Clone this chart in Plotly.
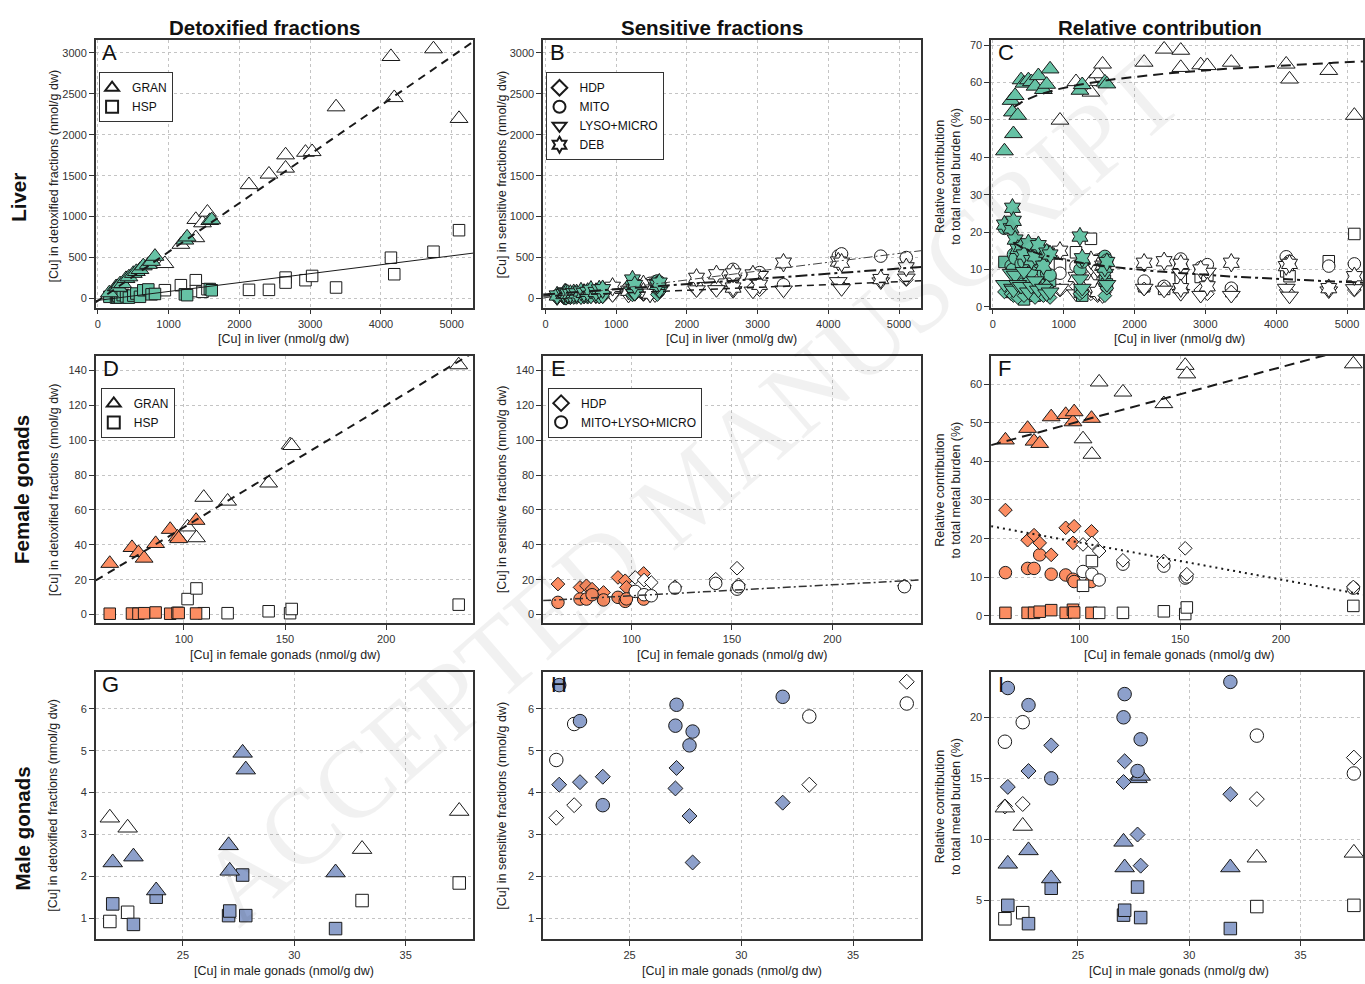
import numpy as np
import plotly.graph_objects as go

FONT = "Liberation Sans, Arial, Helvetica, sans-serif"
W, H = 1365, 984
GREEN = "#66C2A5"; ORANGE = "#FC8D62"; BLUE = "#8DA0CB"; WHITE = "#FFFFFF"
EDGE = "#1a1a1a"

# ---------------- Liver (panels A-C) ----------------
liver_x_green = [164, 258, 277, 291, 315, 352, 399, 440, 502, 545, 596, 643, 714, 760, 808, 1230, 1262, 1582, 1610]
liver_x_white = [948, 1174, 1385, 1385, 1479, 1549, 2136, 2418, 2653, 2653, 2934, 3028, 3366, 4141, 4188, 4742, 5103]

A_gran_green = [68, 142, 144, 135, 178, 180, 242, 263, 305, 328, 352, 397, 415, 452, 514, 712, 750, 951, 960]
A_hsp_green = [20, 10, 15, 30, 12, 40, 25, 10, 35, 60, 20, 100, 110, 50, 55, 50, 40, 115, 100]
A_gran_white = [425, 660, 964, 741, 923, 1053, 1389, 1518, 1753, 1591, 1785, 1793, 2340, 2955, 2453, 3049, 2198]
A_hsp_white = [101, 162, 223, 90, 81, 113, 105, 105, 255, 194, 223, 275, 134, 498, 296, 571, 834]

B_hdp_green = [7, 9, 14, 9, 14, 9, 24, 13, 20, 19, 15, 29, 21, 42, 20, 43, 50, 47, 81]
B_mito_green = [34, 28, 28, 41, 41, 30, 46, 53, 50, 52, 69, 77, 64, 68, 69, 123, 151, 214, 201]
B_lyso_green = [10, 23, 14, 13, 27, 21, 22, 42, 20, 30, 42, 29, 36, 27, 32, 92, 63, 142, 97]
B_deb_green = [36, 54, 73, 67, 57, 55, 64, 62, 85, 68, 80, 106, 79, 110, 113, 231, 164, 166, 193]
B_hdp_white = [43, 65, 48, 69, 44, 62, 103, 118, 101, 133, 132, 106, 135, 186, 147, 228, 230]
B_mito_white = [85, 128, 166, 111, 185, 201, 147, 133, 356, 243, 290, 316, 168, 520, 545, 517, 500]
B_lyso_white = [47, 41, 62, 145, 148, 46, 107, 109, 96, 239, 91, 282, 104, 207, 121, 204, 250]
B_deb_white = [142, 94, 173, 83, 59, 170, 252, 295, 133, 305, 293, 167, 437, 451, 437, 237, 380]

C_gran_green = [41.7, 55.2, 52.1, 46.3, 56.5, 51.2, 60.7, 59.8, 60.7, 60.2, 59.0, 61.8, 58.1, 59.5, 63.6, 57.9, 59.4, 60.1, 59.6]
C_hsp_green = [12, 4, 5, 10, 4, 11, 6, 2, 7, 11, 3, 16, 15, 7, 7, 4, 3, 7, 6]
C_hdp_green = [4.0, 3.5, 5.0, 3.0, 4.5, 2.5, 6.0, 3.0, 4.0, 3.5, 2.5, 4.5, 3.0, 5.5, 2.5, 3.5, 4.0, 3.0, 5.0]
C_mito_green = [21.0, 11.0, 10.0, 14.0, 13.0, 8.5, 11.5, 12.0, 10.0, 9.5, 11.5, 12.0, 9.0, 9.0, 8.5, 10.0, 12.0, 13.5, 12.5]
C_lyso_green = [6.0, 9.0, 5.0, 4.5, 8.5, 6.0, 5.5, 9.5, 4.0, 5.5, 7.0, 4.5, 5.0, 3.5, 4.0, 7.5, 5.0, 9.0, 6.0]
C_deb_green = [22.0, 21.0, 26.5, 23.0, 18.0, 15.5, 16.0, 14.0, 17.0, 12.5, 13.5, 16.5, 11.0, 14.5, 14.0, 18.8, 13.0, 10.5, 12.0]
C_gran_white = [49.9, 60.2, 60.2, 57.4, 62.3, 64.9, 65.4, 68.9, 68.6, 64.0, 64.7, 64.5, 65.4, 64.9, 60.9, 63.2, 51.2]
C_hsp_white = [11.3, 14.6, 18.2, 12.0, 7.0, 9.5, 5.5, 4.8, 8.4, 7.5, 8.0, 8.5, 4.2, 9.5, 8.2, 12.2, 19.5]
C_hdp_white = [4.5, 5.5, 3.5, 5.0, 3.0, 4.0, 4.8, 4.9, 3.8, 5.0, 4.5, 3.5, 4.0, 4.5, 3.5, 4.8, 4.5]
C_mito_white = [9.0, 10.9, 12.0, 8.0, 12.5, 13.0, 6.9, 5.5, 12.8, 11.1, 10.5, 11.3, 5.0, 13.4, 12.2, 10.9, 11.5]
C_lyso_white = [5.0, 3.5, 4.5, 10.5, 10.0, 3.0, 5.0, 4.5, 3.6, 9.0, 3.1, 9.3, 3.1, 5.0, 2.9, 4.3, 4.9]
C_deb_white = [15.0, 8.0, 12.5, 6.0, 4.0, 11.0, 11.8, 12.2, 5.0, 11.5, 10.0, 5.5, 11.8, 10.9, 11.5, 5.0, 8.2]

# ---------------- Female gonads (panels D-F) ----------------
fem_x_orange = [63.3, 74.3, 77.5, 80.3, 86.0, 93.2, 96.8, 97.4, 106.0]
fem_x_white = [101.8, 106.2, 109.8, 121.6, 141.9, 152.5, 153.3, 235.9]

D_gran_orange = [29.3, 38.4, 35.5, 32.3, 40.7, 48.8, 44.5, 43.5, 54.0]
D_hsp_orange = [0.5, 0.6, 0.5, 0.8, 1.2, 0.5, 1.0, 0.9, 0.6]
D_gran_white = [50.2, 44.0, 67.2, 65.0, 75.4, 97.3, 96.9, 143.2]
D_hsp_white = [8.9, 15.0, 0.8, 0.8, 1.9, 0.8, 3.2, 5.7]

E_hdp_orange = [17.5, 15.6, 16.5, 14.6, 12.7, 21.3, 19.4, 15.6, 23.6]
E_mls_orange = [7.0, 8.9, 8.9, 11.4, 8.4, 9.9, 7.6, 9.0, 8.9]
E_hdp_white = [21.3, 19.8, 18.4, 16.0, 20.3, 26.6, 17.1, 16.5]
E_mls_white = [13.3, 11.4, 10.8, 15.2, 17.9, 14.6, 16.0, 16.0]

F_gran_orange = [45.5, 48.5, 45.2, 44.6, 51.5, 52.1, 50.2, 52.8, 51.1]
F_hsp_orange = [0.8, 0.8, 0.8, 1.1, 1.5, 0.8, 1.6, 0.9, 0.8]
F_hdp_orange = [27.4, 19.6, 20.9, 18.9, 15.8, 22.8, 18.9, 23.2, 21.9]
F_mls_orange = [11.2, 12.3, 12.3, 15.8, 10.8, 10.6, 9.5, 8.9, 8.9]
F_gran_white = [45.8, 41.8, 60.5, 57.9, 54.9, 64.8, 62.6, 65.2]
F_hsp_white = [7.8, 14.2, 0.8, 0.8, 1.2, 0.5, 2.2, 2.6]
F_hdp_white = [18.5, 18.9, 16.8, 14.4, 14.2, 17.5, 10.8, 7.5]
F_mls_white = [11.5, 10.8, 9.3, 13.4, 12.9, 9.8, 10.1, 7.2]

# ---------------- Male gonads (panels G-I) ----------------
male_x_blue = [21.85, 22.78, 23.80, 27.05, 27.10, 27.68, 27.82, 31.85]
male_x_white = [21.72, 22.52, 33.04, 37.40]

G_gran_blue = [2.33, 2.47, 1.66, 2.74, 2.13, 4.95, 4.55, 2.09]
G_hsp_blue = [1.34, 0.85, 1.50, 1.06, 1.17, 2.03, 1.06, 0.75]
G_gran_white = [3.40, 3.16, 2.65, 3.56]
G_hsp_white = [0.92, 1.14, 1.42, 1.84]

H_mito_blue = [6.57, 5.71, 3.70, 5.60, 6.10, 5.13, 5.46, 6.29]
H_hdp_blue = [4.19, 4.25, 4.38, 4.10, 4.59, 3.44, 2.33, 3.76]
H_mito_white = [4.78, 5.64, 5.82, 6.13]
H_hdp_white = [3.40, 3.70, 4.19, 6.65]

I_mito_blue = [22.4, 21.0, 15.0, 20.0, 21.9, 15.6, 18.2, 22.9]
I_hdp_blue = [14.3, 15.6, 17.7, 14.7, 16.4, 10.4, 7.85, 13.7]
I_gran_blue = [8.0, 9.1, 6.8, 9.8, 7.7, 15.0, 15.2, 7.7]
I_hsp_blue = [4.6, 3.1, 6.0, 3.8, 4.2, 6.1, 3.6, 2.7]
I_mito_white = [18.0, 19.6, 18.5, 15.4]
I_hdp_white = [12.7, 12.9, 13.3, 16.7]
I_gran_white = [12.6, 11.1, 8.5, 8.9]
I_hsp_white = [3.5, 4.0, 4.5, 4.6]

# ---------------- fitted relationships (slope, intercept) ----------------
A_fit_gran = (0.597, -29.0)
A_fit_hsp = (0.109, -24.0)
B_fit_mito = (0.108, 10.0)
B_fit_deb = (0.063, 50.0)
B_fit_hdp = (0.035, 30.0)
C_fit_gran = (4.26, 29.15)      # a + b*ln(x)
C_fit_sens = (-3.71, 38.24)
C_fit_start = 300
D_fit_gran = (0.70, -19.9)
E_fit = (0.063, 4.5)
F_fit_gran = (0.1404, 36.3)
F_fit_hdp = (-0.0959, 28.6)

# ---------------- axes geometry ----------------
def px_x(a, b):
    return [a / W, b / W]

def px_y(top, bottom):
    return [1 - bottom / H, 1 - top / H]

cols = [px_x(95, 473.3), px_x(543.3, 922.3), [992.3 / W, 1.0]]
rows = [px_y(39.5, 308.5), px_y(357, 626.3), px_y(675, 943.8)]

xranges = {1: [-28, 5304], 2: [-34, 5315], 3: [-24, 5225],
           4: [56.4, 243.1], 5: [55.9, 244.3], 6: [56.2, 240.7],
           7: [21.09, 38.03], 8: [21.13, 38.05], 9: [21.1, 37.81]}
yranges = {1: [-112, 3155], 2: [-112, 3155], 3: [-0.2, 71.3],
           4: [-5.1, 148.4], 5: [-5.1, 148.4], 6: [-1.95, 67.3],
           7: [0.5, 6.886], 8: [0.5, 6.886], 9: [1.84, 23.72]}
liver_ticks = [0, 1000, 2000, 3000, 4000, 5000]
fem_ticks = [100, 150, 200]
male_ticks = [25, 30, 35]
xticks = {1: liver_ticks, 2: liver_ticks, 3: liver_ticks, 4: fem_ticks, 5: fem_ticks,
          6: fem_ticks, 7: male_ticks, 8: male_ticks, 9: male_ticks}
yticks = {1: list(range(0, 3001, 500)), 2: list(range(0, 3001, 500)), 3: list(range(0, 71, 10)),
          4: list(range(0, 141, 20)), 5: list(range(0, 141, 20)), 6: list(range(0, 61, 10)),
          7: [1, 2, 3, 4, 5, 6], 8: [1, 2, 3, 4, 5, 6], 9: [5, 10, 15, 20]}

fig = go.Figure()


def axn(k):
    return ("x", "y") if k == 1 else (f"x{k}", f"y{k}")


def pts(k, x, y, symbol, fill, size, name=None, legend=None):
    xa, ya = axn(k)
    fig.add_trace(go.Scatter(
        x=x, y=y, xaxis=xa, yaxis=ya, mode="markers", name=name or "",
        marker=dict(symbol=symbol, size=size, color=fill, line=dict(color=EDGE, width=1)),
        showlegend=legend is not None, legend=legend if legend else "legend",
        hoverinfo="skip"))


def line(k, x, y, dash, width, color="#1a1a1a"):
    xa, ya = axn(k)
    fig.add_trace(go.Scatter(x=x, y=y, xaxis=xa, yaxis=ya, mode="lines",
                             line=dict(color=color, width=width, dash=dash),
                             showlegend=False, hoverinfo="skip"))


TRI, SQ, DIA, CIR, TRD, HEX = "triangle-up", "square", "diamond", "circle", "triangle-down", "hexagram"
ST, SS, SC, SD, SH = 15.5, 11.5, 12.5, 10.5, 14   # marker sizes rows 1-2
MT, MS, MC, MD = 17, 12.5, 13.5, 11.5               # marker sizes row 3

# Panel A
pts(1, liver_x_white, A_gran_white, TRI, WHITE, ST, "GRAN", "legend")
pts(1, liver_x_white, A_hsp_white, SQ, WHITE, SS, "HSP", "legend")
pts(1, liver_x_green, A_hsp_green, SQ, GREEN, SS)
pts(1, liver_x_green, A_gran_green, TRI, GREEN, ST)
xl = np.array(xranges[1], dtype=float)
line(1, xl, A_fit_gran[0] * xl + A_fit_gran[1], "8px,6px", 2)
line(1, xl, A_fit_hsp[0] * xl + A_fit_hsp[1], "solid", 1)

# Panel B
pts(2, liver_x_white, B_hdp_white, DIA, WHITE, SD, "HDP", "legend2")
pts(2, liver_x_white, B_mito_white, CIR, WHITE, SC, "MITO", "legend2")
pts(2, liver_x_white, B_lyso_white, TRD, WHITE, ST, "LYSO+MICRO", "legend2")
pts(2, liver_x_white, B_deb_white, HEX, WHITE, SH, "DEB", "legend2")
pts(2, liver_x_green, B_hdp_green, DIA, GREEN, SD)
pts(2, liver_x_green, B_mito_green, CIR, GREEN, SC)
pts(2, liver_x_green, B_lyso_green, TRD, GREEN, ST)
pts(2, liver_x_green, B_deb_green, HEX, GREEN, SH)
xl = np.array(xranges[2], dtype=float)
line(2, xl, B_fit_mito[0] * xl + B_fit_mito[1], "9px,3px,2px,3px", 1, "#444444")
line(2, xl, B_fit_deb[0] * xl + B_fit_deb[1], "12px,4px,3px,4px", 2)
line(2, xl, B_fit_hdp[0] * xl + B_fit_hdp[1], "7px,5px", 1.5)

# Panel C
pts(3, liver_x_white, C_gran_white, TRI, WHITE, ST)
pts(3, liver_x_white, C_hsp_white, SQ, WHITE, SS)
pts(3, liver_x_white, C_mito_white, CIR, WHITE, SC)
pts(3, liver_x_white, C_hdp_white, DIA, WHITE, SD)
pts(3, liver_x_white, C_lyso_white, TRD, WHITE, ST)
pts(3, liver_x_white, C_deb_white, HEX, WHITE, SH)
pts(3, liver_x_green, C_hsp_green, SQ, GREEN, SS)
pts(3, liver_x_green, C_mito_green, CIR, GREEN, SC)
pts(3, liver_x_green, C_hdp_green, DIA, GREEN, SD)
pts(3, liver_x_green, C_lyso_green, TRD, GREEN, ST)
pts(3, liver_x_green, C_deb_green, HEX, GREEN, SH)
pts(3, liver_x_green, C_gran_green, TRI, GREEN, ST)
xc = np.linspace(C_fit_start, xranges[3][1], 200)
line(3, xc, C_fit_gran[1] + C_fit_gran[0] * np.log(xc), "10px,6px", 2)
line(3, xc, C_fit_sens[1] + C_fit_sens[0] * np.log(xc), "10px,4px,3px,4px", 2)

# Panel D
pts(4, fem_x_white, D_gran_white, TRI, WHITE, ST, "GRAN", "legend3")
pts(4, fem_x_white, D_hsp_white, SQ, WHITE, SS, "HSP", "legend3")
pts(4, fem_x_orange, D_hsp_orange, SQ, ORANGE, SS)
pts(4, fem_x_orange, D_gran_orange, TRI, ORANGE, ST)
xl = np.array(xranges[4], dtype=float)
line(4, xl, D_fit_gran[0] * xl + D_fit_gran[1], "8px,6px", 2)

# Panel E
pts(5, fem_x_orange, E_hdp_orange, DIA, ORANGE, SD)
pts(5, fem_x_orange, E_mls_orange, CIR, ORANGE, SC)
pts(5, fem_x_white, E_hdp_white, DIA, WHITE, SD, "HDP", "legend4")
pts(5, fem_x_white, E_mls_white, CIR, WHITE, SC, "MITO+LYSO+MICRO", "legend4")
xl = np.array(xranges[5], dtype=float)
line(5, xl, E_fit[0] * xl + E_fit[1], "8px,3px,2px,3px", 1.5, "#333333")

# Panel F
pts(6, fem_x_orange, F_hsp_orange, SQ, ORANGE, SS)
pts(6, fem_x_orange, F_mls_orange, CIR, ORANGE, SC)
pts(6, fem_x_orange, F_hdp_orange, DIA, ORANGE, SD)
pts(6, fem_x_orange, F_gran_orange, TRI, ORANGE, ST)
pts(6, fem_x_white, F_hsp_white, SQ, WHITE, SS)
pts(6, fem_x_white, F_mls_white, CIR, WHITE, SC)
pts(6, fem_x_white, F_hdp_white, DIA, WHITE, SD)
pts(6, fem_x_white, F_gran_white, TRI, WHITE, ST)
xl = np.array(xranges[6], dtype=float)
line(6, xl, F_fit_gran[0] * xl + F_fit_gran[1], "10px,6px", 2)
line(6, xl, F_fit_hdp[0] * xl + F_fit_hdp[1], "2px,4px", 2)

# Panel G
pts(7, male_x_white, G_gran_white, TRI, WHITE, MT)
pts(7, male_x_white, G_hsp_white, SQ, WHITE, MS)
pts(7, male_x_blue, G_hsp_blue, SQ, BLUE, MS)
pts(7, male_x_blue, G_gran_blue, TRI, BLUE, MT)

# Panel H
pts(8, male_x_white, H_mito_white, CIR, WHITE, MC)
pts(8, male_x_white, H_hdp_white, DIA, WHITE, MD)
pts(8, male_x_blue, H_mito_blue, CIR, BLUE, MC)
pts(8, male_x_blue, H_hdp_blue, DIA, BLUE, MD)

# Panel I
pts(9, male_x_white, I_mito_white, CIR, WHITE, MC)
pts(9, male_x_white, I_hdp_white, DIA, WHITE, MD)
pts(9, male_x_white, I_gran_white, TRI, WHITE, MT)
pts(9, male_x_white, I_hsp_white, SQ, WHITE, MS)
pts(9, male_x_blue, I_hsp_blue, SQ, BLUE, MS)
pts(9, male_x_blue, I_gran_blue, TRI, BLUE, MT)
pts(9, male_x_blue, I_hdp_blue, DIA, BLUE, MD)
pts(9, male_x_blue, I_mito_blue, CIR, BLUE, MC)

# ---------------- layout ----------------
layout = dict(width=W, height=H, margin=dict(l=0, r=0, t=0, b=0),
              paper_bgcolor="white", plot_bgcolor="white",
              font=dict(family=FONT, color="#111111"), showlegend=True)

for k in range(1, 10):
    c = (k - 1) % 3
    r = (k - 1) // 3
    xa, ya = axn(k)
    common = dict(ticks="outside", ticklen=5, tickwidth=1, tickcolor="#333333",
                  showline=True, linecolor="#333333", linewidth=1.5, mirror=True,
                  showgrid=True, gridcolor="#c4c4c4", griddash="dot", gridwidth=1,
                  zeroline=False, tickfont=dict(family=FONT, size=11, color="#333333"))
    layout["xaxis" if k == 1 else f"xaxis{k}"] = dict(
        domain=cols[c], range=xranges[k], tickvals=xticks[k], anchor=ya, **common)
    layout["yaxis" if k == 1 else f"yaxis{k}"] = dict(
        domain=rows[r], range=yranges[k], tickvals=yticks[k], anchor=xa, **common)

leg = dict(xanchor="left", yanchor="top", bgcolor="white", bordercolor="#333333",
           borderwidth=1, font=dict(family=FONT, size=12, color="#111111"),
           itemsizing="constant", tracegroupgap=0, itemwidth=30, indentation=-8)
layout["legend"] = dict(x=98.3 / W, y=1 - 71.7 / H, **leg)
layout["legend2"] = dict(x=546.7 / W, y=1 - 71.7 / H, **leg)
layout["legend3"] = dict(x=100 / W, y=1 - 389.3 / H, **leg)
layout["legend4"] = dict(x=548.3 / W, y=1 - 389 / H, **leg)

anns = []


def ann(text, xp, yp, size, bold=False, angle=0, xanchor="center", color="#111111", family=FONT):
    anns.append(dict(text=f"<b>{text}</b>" if bold else text, x=xp / W, y=1 - yp / H,
                     xref="paper", yref="paper", showarrow=False, textangle=angle,
                     xanchor=xanchor, yanchor="middle",
                     font=dict(family=family, size=size, color=color)))


# watermark (kept fully inside the page)
ann("ACCEPTED MANUSCRIPT", 690, 492, 106, angle=-41, color="rgba(0,0,0,0.055)",
    family="Liberation Serif, Times New Roman, serif")

# column titles
ann("Detoxified fractions", 264, 26.7, 20.5, bold=True)
ann("Sensitive fractions", 712.7, 26.7, 20.5, bold=True)
ann("Relative contribution", 1161.7, 26.7, 20.5, bold=True)
# row titles
ann("Liver", 18, 197, 20.5, bold=True, angle=-90)
ann("Female gonads", 20, 491, 20.5, bold=True, angle=-90)
ann("Male gonads", 21.7, 833, 20.5, bold=True, angle=-90)
# panel letters
for letter, xp, yp in [("A", 99, 52), ("B", 548.5, 52), ("C", 997.5, 52),
                       ("D", 100, 370), ("E", 549, 370), ("F", 997.5, 370),
                       ("G", 99, 688), ("H", 549, 688), ("I", 997.5, 688)]:
    ann(letter, xp, yp, 22, xanchor="left")

# axis titles
ytit_det = "[Cu] in detoxified fractions (nmol/g dw)"
ytit_sen = "[Cu] in sensitive fractions (nmol/g dw)"
ytit_rel = "Relative contribution<br>to total metal burden (%)"
for txt, xp, yp in [(ytit_det, 52.7, 176), (ytit_sen, 501.7, 175), (ytit_rel, 949, 176),
                    (ytit_det, 52.7, 491.7), (ytit_sen, 501.7, 491.7), (ytit_rel, 949, 491.7),
                    (ytit_det, 51.7, 809), (ytit_sen, 501.7, 810), (ytit_rel, 949, 810)]:
    ann(txt, xp, yp, 12.5, angle=-90, color="#222222")

for txt, xp, yp in [("[Cu] in liver (nmol/g dw)", 283.3, 340), ("[Cu] in liver (nmol/g dw)", 732.3, 340),
                    ("[Cu] in liver (nmol/g dw)", 1180.7, 340),
                    ("[Cu] in female gonads (nmol/g dw)", 284.3, 658.3),
                    ("[Cu] in female gonads (nmol/g dw)", 732.3, 658.3),
                    ("[Cu] in female gonads (nmol/g dw)", 1180.7, 658.3),
                    ("[Cu] in male gonads (nmol/g dw)", 284, 975.7),
                    ("[Cu] in male gonads (nmol/g dw)", 732.3, 975.7),
                    ("[Cu] in male gonads (nmol/g dw)", 1180.7, 975.7)]:
    ann(txt, xp, yp, 12.5, color="#222222")

layout["annotations"] = anns
fig.update_layout(**layout)
fig.write_html("out.html")
